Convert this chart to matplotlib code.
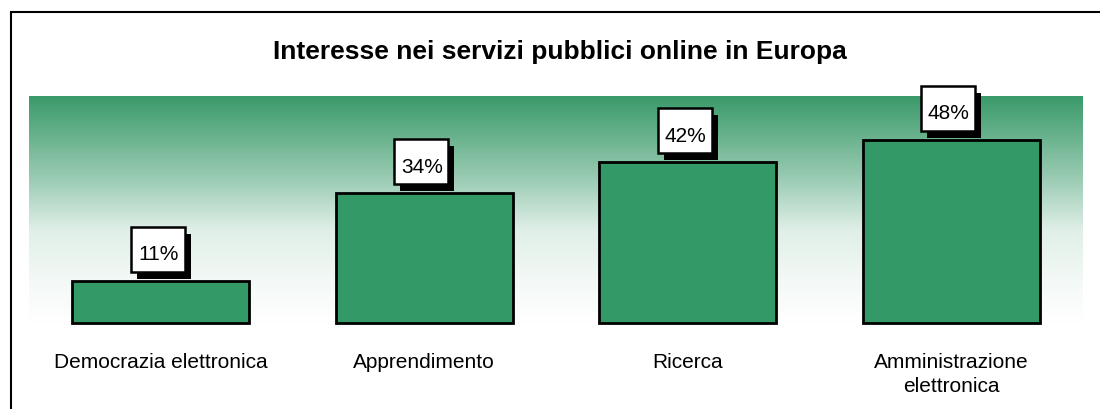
import matplotlib
matplotlib.use('Agg')
import matplotlib.pyplot as plt
import matplotlib.transforms as mtransforms
from matplotlib.patches import Rectangle
import numpy as np

categories = ['Democrazia elettronica', 'Apprendimento', 'Ricerca', 'Amministrazione\nelettronica']
values = [11, 34, 42, 48]
value_labels = ['11%', '34%', '42%', '48%']
title = 'Interesse nei servizi pubblici online in Europa'

plt.rcParams['font.family'] = ['Liberation Sans', 'DejaVu Sans']

W, H = 1100, 410
fig = plt.figure(figsize=(W / 100, H / 100), dpi=100)
ax = fig.add_axes([29 / W, (H - 324) / H, 1054 / W, 227 / H])
x = np.arange(len(categories))
ymax = 59.4
ax.set_xlim(-0.5, len(categories) - 0.5)
ax.set_ylim(0, ymax)

# background gradient (green at top fading to white)
stops_t = [0, 0.37, 0.59, 0.81, 1.0]
stops_s = [0, 0.5, 0.84, 0.94, 1.0]
t = np.linspace(0, 1, 300)
s = np.interp(t, stops_t, stops_s)
top = np.array([0x3a, 0x9a, 0x6a]) / 255
white = np.array([1.0, 1.0, 1.0])
grad = top[None, :] * (1 - s[:, None]) + white[None, :] * s[:, None]
ax.imshow(grad[:, None, :], extent=[-0.5, len(categories) - 0.5, 0, ymax],
          aspect='auto', origin='upper', zorder=0)

ax.bar(x, values, width=0.673, color='#339966', edgecolor='black',
       linewidth=2.0, zorder=2, clip_on=False)

for xi, v, lab in zip(x, values, value_labels):
    tr = mtransforms.Affine2D() + mtransforms.ScaledTranslation(xi, v, ax.transData)
    shadow = Rectangle((-24, 2), 54, 45, facecolor='black', edgecolor='none',
                       transform=tr, zorder=3, clip_on=False)
    box = Rectangle((-30, 9), 54, 45, facecolor='white', edgecolor='black',
                    linewidth=1.8, transform=tr, zorder=4, clip_on=False)
    ax.add_patch(shadow)
    ax.add_patch(box)
    ax.text(-2.5, 21.5, lab, transform=tr, ha='center', va='baseline',
            fontsize=15, color='black', zorder=5, clip_on=False)

ax.set_xticks(x, categories)
ax.set_yticks([])
ax.tick_params(axis='x', length=0, pad=21, labelsize=15)
for lbl in ax.get_xticklabels():
    lbl.set_linespacing(1.35)
for sp in ax.spines.values():
    sp.set_visible(False)

fig.text(560 / W, (H - 59) / H, title, ha='center', va='baseline',
         fontsize=19, fontweight='bold')

fig.add_artist(Rectangle((11 / W, -0.1), 1.2, (H - 13) / H + 0.1, fill=False,
                         edgecolor='black', linewidth=1.5,
                         transform=fig.transFigure))

fig.savefig('out.png', dpi=100)
